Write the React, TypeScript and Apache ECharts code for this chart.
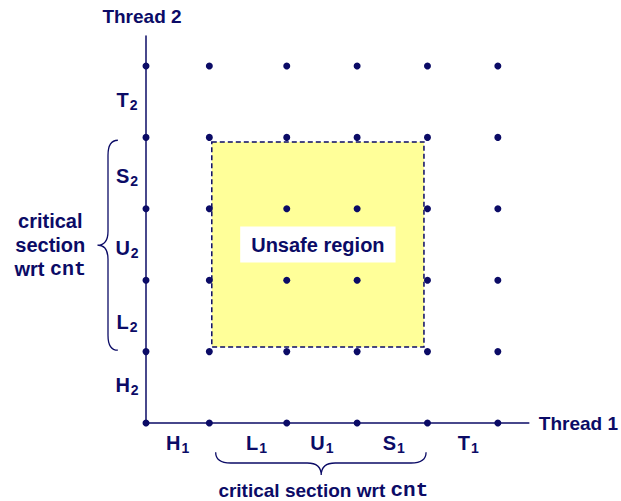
import React, { useEffect, useRef } from 'react';
import * as echarts from 'echarts';

const NAVY = '#0b0b66';
const FONT = 'Liberation Sans, Arial, sans-serif';
const MONO = 'Liberation Mono, Courier New, monospace';

// progress points of each thread
const thread1Points = [0, 0.9, 2, 3, 4, 5];
const thread2Points = [0, 1, 2, 3, 4, 5];

// instruction labels between points
const thread1Labels = ['H', 'L', 'U', 'S', 'T'];
const thread1LabelX = [0.45, 1.57, 2.5, 3.52, 4.58];
const thread1LabelY = -0.28;
const thread2Labels = ['H', 'L', 'U', 'S', 'T'];
const thread2LabelY = [0.53, 1.42, 2.45, 3.46, 4.52];
const thread2LabelX = -0.27;

// unsafe region corners [x, y]
const unsafeFrom = [0.935, 3.935];
const unsafeTo = [3.95, 1.064];

// braces: [endAx, endAy, endBx, endBy, tipX, tipY, shoulder]
const leftBrace = [-0.4, 3.96, -0.4, 1.02, -0.69, 2.49, -0.54];
const bottomBrace = [0.99, -0.41, 3.98, -0.41, 2.49, -0.73, -0.56];

const leftNote = [-1.36, 2.49];
const bottomNote = [2.52, -0.94];

const X_MAX = 5.44;
const Y_MAX = 5.42;

function subLabel(main: string, sub: string) {
  return `{m|${main}}{s|${sub}}`;
}

const noBorder = { textBorderWidth: 0, textBorderColor: 'transparent', textShadowBlur: 0 };

const subRich = {
  m: { fontSize: 20, fontWeight: 'bold', color: NAVY, fontFamily: FONT, lineHeight: 22, ...noBorder },
  s: { fontSize: 14, fontWeight: 'bold', color: NAVY, fontFamily: FONT, lineHeight: 14, padding: [10, 0, 0, 1], ...noBorder },
};

export default function App() {
  const ref = useRef<HTMLDivElement>(null);
  useEffect(() => {
    if (!ref.current) return;
    const chart = echarts.init(ref.current, null, { renderer: 'svg' });

    const dots: number[][] = [];
    thread2Points.forEach((y) => thread1Points.forEach((x) => dots.push([x, y])));

    const labelData: any[] = [];
    thread1Labels.forEach((l, i) => labelData.push({ value: [thread1LabelX[i], thread1LabelY], name: subLabel(l, '1') }));
    thread2Labels.forEach((l, i) => labelData.push({ value: [thread2LabelX, thread2LabelY[i]], name: subLabel(l, '2') }));

    const braceItem = (params: any, api: any) => {
      const A = api.coord([api.value(0), api.value(1)]);
      const B = api.coord([api.value(2), api.value(3)]);
      const T = api.coord([api.value(4), api.value(5)]);
      const vertical = Math.abs(A[0] - B[0]) < 1;
      let d = '';
      if (vertical) {
        const xs = api.coord([api.value(6), 0])[0];
        const xe = A[0];
        const ya = Math.min(A[1], B[1]);
        const yb = Math.max(A[1], B[1]);
        const ym = T[1];
        const r = 15;
        const r2 = 14;
        d = `M${xe} ${ya} Q${xs} ${ya} ${xs} ${ya + r} L${xs} ${ym - r2} Q${xs} ${ym} ${T[0]} ${ym} Q${xs} ${ym} ${xs} ${ym + r2} L${xs} ${yb - r} Q${xs} ${yb} ${xe} ${yb}`;
      } else {
        const ys = api.coord([0, api.value(6)])[1];
        const ye = A[1];
        const xa = Math.min(A[0], B[0]);
        const xb = Math.max(A[0], B[0]);
        const xm = T[0];
        const r = 15;
        const r2 = 14;
        d = `M${xa} ${ye} Q${xa} ${ys} ${xa + r} ${ys} L${xm - r2} ${ys} Q${xm} ${ys} ${xm} ${T[1]} Q${xm} ${ys} ${xm + r2} ${ys} L${xb - r} ${ys} Q${xb} ${ys} ${xb} ${ye}`;
      }
      return {
        type: 'path',
        shape: { pathData: d },
        style: { stroke: NAVY, fill: null, lineWidth: 1.3 },
      };
    };

    const noteRich = {
      a: { fontSize: 20, fontWeight: 'bold', color: NAVY, fontFamily: FONT, lineHeight: 24, ...noBorder },
      c: { fontSize: 20, fontWeight: 'bold', color: NAVY, fontFamily: MONO, lineHeight: 24, ...noBorder },
    };
    const bottomRich = {
      a: { fontSize: 19, fontWeight: 'bold', color: NAVY, fontFamily: FONT, lineHeight: 24, ...noBorder },
      c: { fontSize: 21, fontWeight: 'bold', color: NAVY, fontFamily: MONO, lineHeight: 24, ...noBorder },
    };

    const labelBase = { show: true, position: 'inside', color: NAVY, ...noBorder };
    const solid = { color: NAVY, opacity: 1 };

    const option: any = {
      animation: false,
      grid: { left: 146, right: 91, top: 36, bottom: 78 },
      xAxis: {
        type: 'value', min: 0, max: X_MAX,
        name: 'Thread 1', nameLocation: 'end', nameGap: 10,
        nameTextStyle: { fontSize: 19, fontWeight: 'bold', color: NAVY, fontFamily: FONT },
        axisLine: { show: true, lineStyle: { color: NAVY, width: 1.5 } },
        axisTick: { show: false }, axisLabel: { show: false }, splitLine: { show: false },
      },
      yAxis: {
        type: 'value', min: 0, max: Y_MAX,
        name: 'Thread 2', nameLocation: 'end', nameGap: 10,
        nameTextStyle: { fontSize: 19, fontWeight: 'bold', color: NAVY, fontFamily: FONT, padding: [0, 8, 0, 0] },
        axisLine: { show: true, lineStyle: { color: NAVY, width: 1.5 } },
        axisTick: { show: false }, axisLabel: { show: false }, splitLine: { show: false },
      },
      series: [
        {
          type: 'scatter', z: 1, data: [], silent: true,
          markArea: {
            silent: true,
            itemStyle: { color: '#ffff99', borderColor: NAVY, borderWidth: 1.5, borderType: [5, 3], opacity: 1 },
            label: {
              show: true, position: 'inside', formatter: 'Unsafe region',
              backgroundColor: '#ffffff', padding: [8, 11],
              fontSize: 20, fontWeight: 'bold', color: NAVY, fontFamily: FONT, ...noBorder,
            },
            data: [[{ coord: unsafeFrom }, { coord: unsafeTo }]],
          },
        },
        {
          type: 'scatter', z: 5, clip: false, symbol: 'circle', symbolSize: 7,
          itemStyle: solid,
          data: dots,
        },
        {
          type: 'scatter', z: 6, clip: false, symbolSize: 0, silent: true,
          itemStyle: solid,
          data: labelData,
          label: {
            ...labelBase,
            formatter: (p: any) => p.name,
            rich: subRich,
          },
        },
        {
          type: 'custom', z: 6, silent: true, clip: false,
          renderItem: braceItem,
          data: [leftBrace, bottomBrace],
        },
        {
          type: 'scatter', z: 6, clip: false, symbolSize: 0, silent: true,
          itemStyle: solid,
          data: [{ value: leftNote, name: 'left' }],
          label: {
            ...labelBase, align: 'center',
            formatter: '{a|critical}\n{a|section}\n{a|wrt }{c|cnt}',
            rich: noteRich,
          },
        },
        {
          type: 'scatter', z: 6, clip: false, symbolSize: 0, silent: true,
          itemStyle: solid,
          data: [{ value: bottomNote, name: 'bottom' }],
          label: {
            ...labelBase,
            formatter: '{a|critical section wrt }{c|cnt}',
            rich: bottomRich,
          },
        },
      ],
    };
    chart.setOption(option);
    return () => chart.dispose();
  }, []);
  return (
    <div
      ref={ref}
      style={{ position: 'fixed', left: 0, top: 0, width: 621, height: 501, background: '#ffffff' }}
    />
  );
}
